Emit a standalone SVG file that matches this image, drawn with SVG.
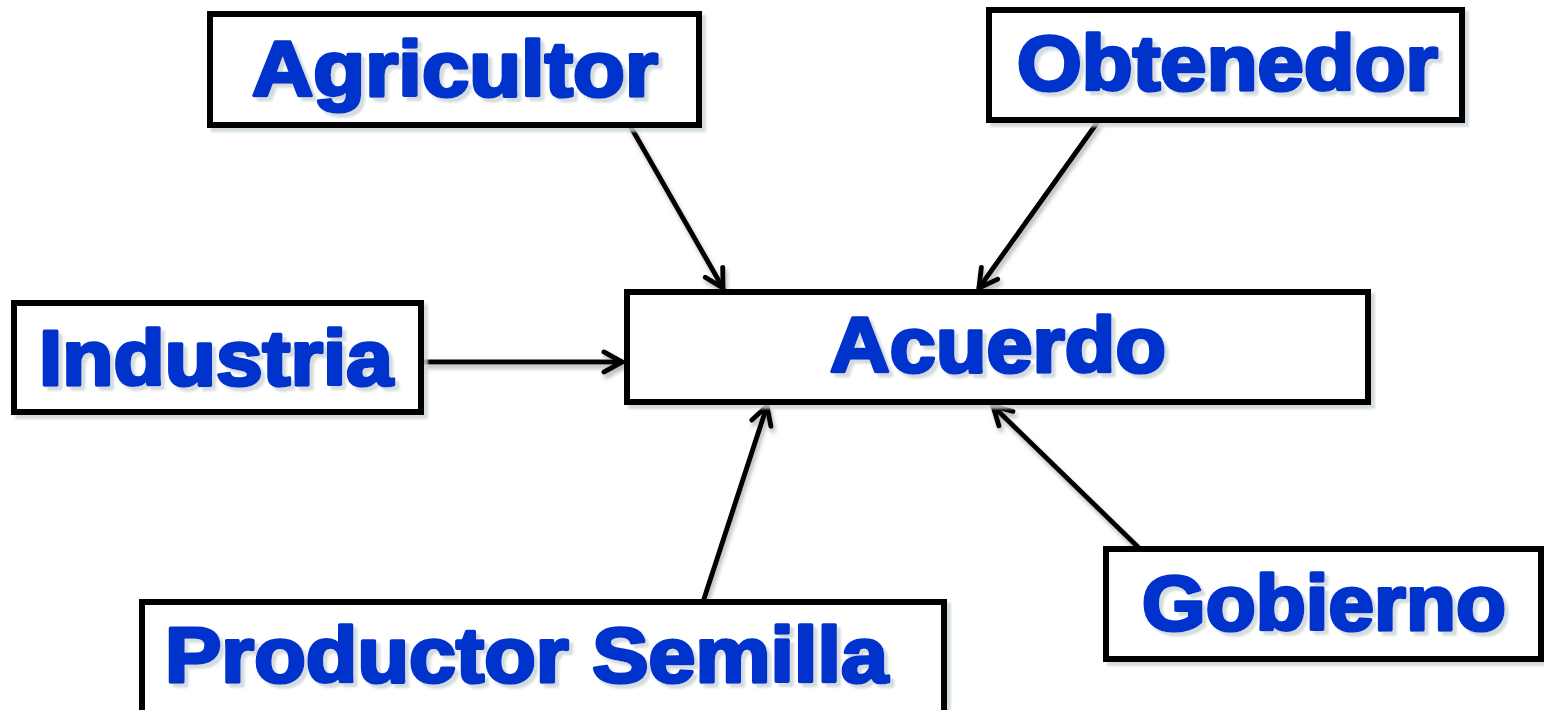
<svg xmlns="http://www.w3.org/2000/svg" width="1544" height="710" viewBox="0 0 1544 710">
<style>
.box{fill:#fff;stroke:#000;stroke-width:6}
.lbl{font-family:"Liberation Sans",Arial,sans-serif;font-weight:bold;font-size:78px;fill:#0033cc;stroke:#0033cc;stroke-width:3.5;stroke-linejoin:round}
.edge{stroke:#000;stroke-width:5;fill:none;stroke-linecap:round}
</style>
<defs>
<filter id="sh" x="-10%" y="-10%" width="130%" height="140%">
<feDropShadow dx="4" dy="4" stdDeviation="1" flood-color="#c9d3d8" flood-opacity="0.8"/>
</filter>
<filter id="lsh" x="-20%" y="-20%" width="140%" height="140%">
<feDropShadow dx="2" dy="4" stdDeviation="2" flood-color="#888" flood-opacity="0.6"/>
</filter>
<marker id="arr" viewBox="0 0 26 26" refX="23" refY="13" markerWidth="26" markerHeight="26" markerUnits="userSpaceOnUse" orient="auto">
<path d="M5,3 L23,13 L5,23" fill="none" stroke="#000" stroke-width="5" stroke-linecap="round" stroke-linejoin="round"/>
</marker>
</defs>
<rect width="1544" height="710" fill="#fff"/>
<g id="connectors" filter="url(#lsh)">
<line class="edge" x1="628" y1="122" x2="723" y2="288" marker-end="url(#arr)"/>
<line class="edge" x1="1097" y1="123" x2="979" y2="288" marker-end="url(#arr)"/>
<line class="edge" x1="424" y1="362" x2="622" y2="362" marker-end="url(#arr)"/>
<line class="edge" x1="703" y1="602" x2="767" y2="406" marker-end="url(#arr)"/>
<line class="edge" x1="1140" y1="549" x2="993" y2="406" marker-end="url(#arr)"/>
</g>
<g id="agricultor">
<rect class="box" x="210" y="14" width="489" height="111" filter="url(#sh)"/>
<text class="lbl" x="252" y="96" textLength="406" lengthAdjust="spacingAndGlyphs" filter="url(#sh)">Agricultor</text>
</g>
<g id="obtenedor">
<rect class="box" x="989" y="10" width="473" height="110" filter="url(#sh)"/>
<text class="lbl" x="1017" y="90" textLength="421" lengthAdjust="spacingAndGlyphs" filter="url(#sh)">Obtenedor</text>
</g>
<g id="industria">
<rect class="box" x="14" y="303" width="407" height="109" filter="url(#sh)"/>
<text class="lbl" x="39" y="385" textLength="354" lengthAdjust="spacingAndGlyphs" filter="url(#sh)">Industria</text>
</g>
<g id="acuerdo">
<rect class="box" x="627" y="292" width="741" height="110" filter="url(#sh)"/>
<text class="lbl" x="830" y="372" textLength="336" lengthAdjust="spacingAndGlyphs" filter="url(#sh)">Acuerdo</text>
</g>
<g id="gobierno">
<rect class="box" x="1106" y="549" width="435" height="110" filter="url(#sh)"/>
<text class="lbl" x="1142" y="630" textLength="364" lengthAdjust="spacingAndGlyphs" filter="url(#sh)">Gobierno</text>
</g>
<g id="productor-semilla">
<rect class="box" x="142" y="602" width="802" height="115" filter="url(#sh)"/>
<text class="lbl" x="165" y="682" textLength="723" lengthAdjust="spacingAndGlyphs" filter="url(#sh)">Productor Semilla</text>
</g>
</svg>
